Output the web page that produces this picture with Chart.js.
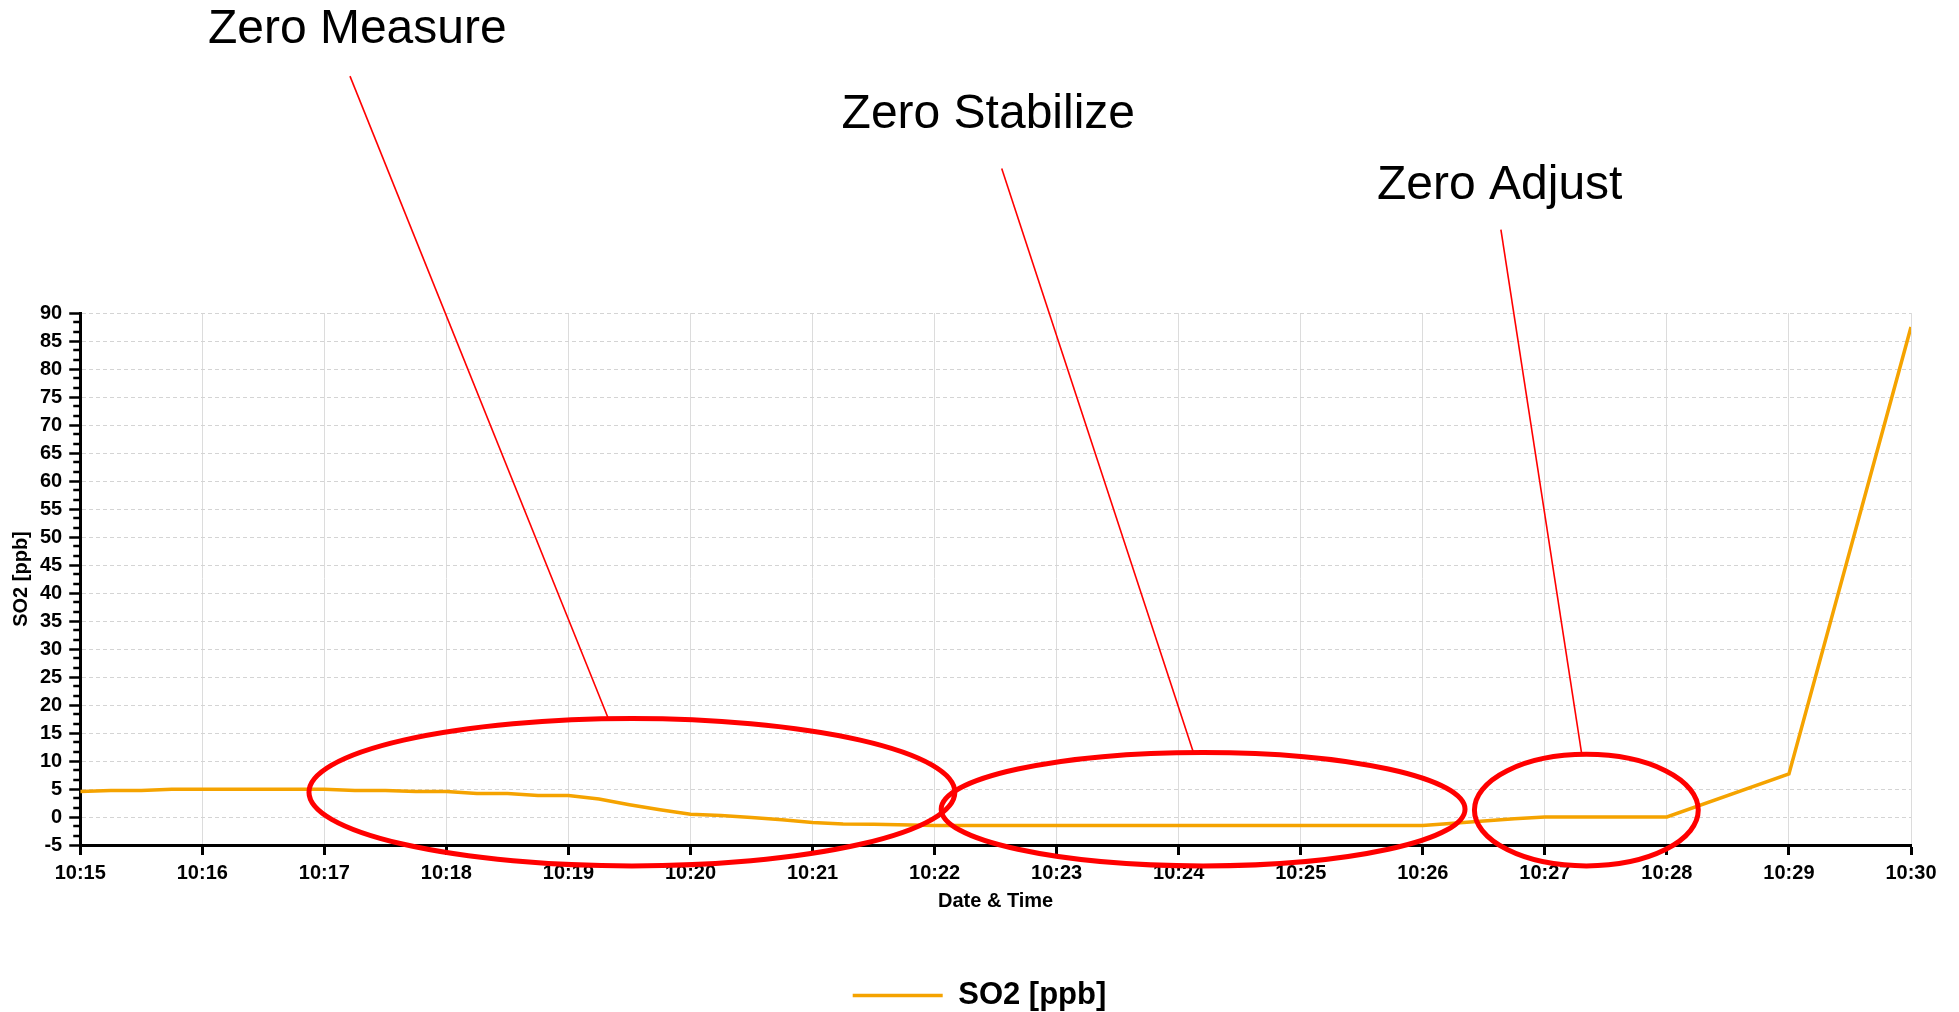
<!DOCTYPE html>
<html>
<head>
<meta charset="utf-8">
<script src="https://cdn.jsdelivr.net/npm/chart.js@4"></script>
<style>
  body { margin: 0; background: #fff; }
  #wrap { width: 1959px; height: 1012px; }
</style>
</head>
<body>
<div id="wrap"><canvas id="chartSO2"></canvas></div>
<script>
// readings, SO2 in ppb
const timeLabels = [
  "10:15:00", "10:15:15", "10:15:30", "10:15:45", "10:16:00", "10:16:30", "10:17:00",
  "10:17:15", "10:17:30", "10:17:45", "10:18:00", "10:18:15", "10:18:30", "10:18:45",
  "10:19:00", "10:19:15", "10:19:30", "10:19:45", "10:20:00", "10:20:15", "10:20:30",
  "10:20:45", "10:21:00", "10:21:15", "10:21:30", "10:22:00", "10:23:00", "10:24:00",
  "10:25:00", "10:26:00", "10:26:15", "10:26:30", "10:26:45", "10:27:00", "10:27:30",
  "10:28:00", "10:29:00", "10:30:00"
];
const so2Values = [
  4.55, 4.75, 4.75, 4.95, 4.95, 4.95, 4.95,
  4.75, 4.75, 4.55, 4.55, 4.2, 4.2, 3.85,
  3.85, 3.2, 2.2, 1.3, 0.5, 0.25, -0.1,
  -0.5, -1.0, -1.25, -1.3, -1.5, -1.5, -1.5,
  -1.5, -1.5, -1.1, -0.7, -0.3, 0.0, 0.0,
  0.0, 7.7, 87.5
];
const xTickLabels = [
  "10:15", "10:16", "10:17", "10:18", "10:19", "10:20", "10:21", "10:22",
  "10:23", "10:24", "10:25", "10:26", "10:27", "10:28", "10:29", "10:30"
];
const yMin = -5;
const yMax = 90;

// annotation callouts, in axis units (minutes after 10:00, ppb)
const notes = [
  { text: "Zero Measure", tx: 17.27, ty: 138.2, from: [17.21, 132.3], to: [19.33, 17.4],
    ellipse: { x: 19.52, y: 4.43, rx: 2.646, ry: 13.16 } },
  { text: "Zero Stabilize", tx: 22.44, ty: 123.1, from: [22.55, 115.8], to: [24.12, 11.55],
    ellipse: { x: 24.2, y: 1.4, rx: 2.146, ry: 10.14 } },
  { text: "Zero Adjust", tx: 26.63, ty: 110.3, from: [26.64, 104.9], to: [27.30, 11.55],
    ellipse: { x: 27.34, y: 1.23, rx: 0.917, ry: 9.96 } }
];

function toMinutes(t) {
  let p = t.split(":").map(Number);
  return p[0] * 60 + p[1] + p[2] / 60 - 600;
}

let points = [];
for (let i = 0; i < timeLabels.length; i++) {
  points.push({ x: toMinutes(timeLabels[i]), y: so2Values[i] });
}

const font = "Arial, 'Liberation Sans', sans-serif";

const minorTicks = {
  id: "minorTicks",
  afterDraw(chart) {
    const ctx = chart.ctx;
    const y = chart.scales.y;
    const left = chart.chartArea.left;
    ctx.save();
    ctx.strokeStyle = "#000";
    ctx.lineWidth = 2.5;
    for (let k = 0; k <= (yMax - yMin) * 3 / 5; k++) {
      if (k % 3 === 0) continue;
      let py = Math.round(y.getPixelForValue(yMin + k * 5 / 3));
      ctx.beginPath();
      ctx.moveTo(left - 7, py);
      ctx.lineTo(left, py);
      ctx.stroke();
    }
    ctx.restore();
  }
};

const callouts = {
  id: "callouts",
  afterDraw(chart) {
    const ctx = chart.ctx;
    const sx = chart.scales.x;
    const sy = chart.scales.y;
    ctx.save();
    notes.forEach(function (n) {
      // ellipse
      let e = n.ellipse;
      let cx = sx.getPixelForValue(e.x);
      let cy = sy.getPixelForValue(e.y);
      let rx = Math.abs(sx.getPixelForValue(e.x + e.rx) - cx);
      let ry = Math.abs(sy.getPixelForValue(e.y + e.ry) - cy);
      ctx.strokeStyle = "#ff0000";
      ctx.lineWidth = 5;
      ctx.beginPath();
      ctx.ellipse(cx, cy, rx, ry, 0, 0, Math.PI * 2);
      ctx.stroke();
      // leader line
      ctx.lineWidth = 1.6;
      ctx.beginPath();
      ctx.moveTo(sx.getPixelForValue(n.from[0]), sy.getPixelForValue(n.from[1]));
      ctx.lineTo(sx.getPixelForValue(n.to[0]), sy.getPixelForValue(n.to[1]));
      ctx.stroke();
      // label
      ctx.fillStyle = "#000";
      ctx.font = "48px " + font;
      ctx.textAlign = "center";
      ctx.textBaseline = "alphabetic";
      ctx.fillText(n.text, sx.getPixelForValue(n.tx), sy.getPixelForValue(n.ty));
    });
    ctx.restore();
  }
};

const ctx = document.getElementById("chartSO2").getContext("2d");
const chartSO2 = new Chart(ctx, {
  type: "line",
  data: {
    datasets: [
      {
        label: "SO2 [ppb]",
        data: points,
        borderColor: "#f5a300",
        backgroundColor: "#f5a300",
        borderWidth: 3.5,
        pointRadius: 0,
        tension: 0,
        fill: false,
      },
    ],
  },
  options: {
    responsive: true,
    maintainAspectRatio: false,
    animation: false,
    layout: { padding: { top: 313, left: 0, right: 0, bottom: -9 } },
    plugins: {
      tooltip: { enabled: false },
      legend: {
        position: "bottom",
        labels: {
          usePointStyle: true,
          pointStyle: "line",
          pointStyleWidth: 90,
          color: "#000",
          font: { family: font, size: 31, weight: "bold" },
        },
      },
    },
    scales: {
      x: {
        type: "linear",
        min: 15,
        max: 30,
        afterFit: function (scale) {
          scale.paddingRight = 48;
        },
        ticks: {
          stepSize: 1,
          padding: 10,
          color: "#000",
          font: { family: font, size: 20, weight: "bold", lineHeight: 0.8 },
          callback: function (v) {
            return xTickLabels[v - 15];
          },
        },
        grid: { color: "#dcdcdc", lineWidth: 1, tickColor: "#000", tickWidth: 3, tickLength: 10 },
        border: { color: "#000", width: 3 },
        title: {
          display: true,
          text: "Date & Time",
          color: "#000",
          font: { family: font, size: 20, weight: "bold", lineHeight: 1 },
          padding: { top: 0, bottom: 59 },
        },
      },
      y: {
        min: yMin,
        max: yMax,
        ticks: {
          stepSize: 5,
          padding: 7,
          color: "#000",
          font: { family: font, size: 20, weight: "bold" },
        },
        grid: { color: "#d4d4d4", lineWidth: 1, tickColor: "#000", tickWidth: 2.5, tickLength: 11 },
        border: { color: "#000", width: 3, dash: [4, 3] },
        title: {
          display: true,
          text: "SO2 [ppb]",
          color: "#000",
          font: { family: font, size: 20, weight: "bold" },
          padding: { top: 9, bottom: 0 },
        },
      },
    },
  },
  plugins: [minorTicks, callouts],
});
</script>
</body>
</html>
